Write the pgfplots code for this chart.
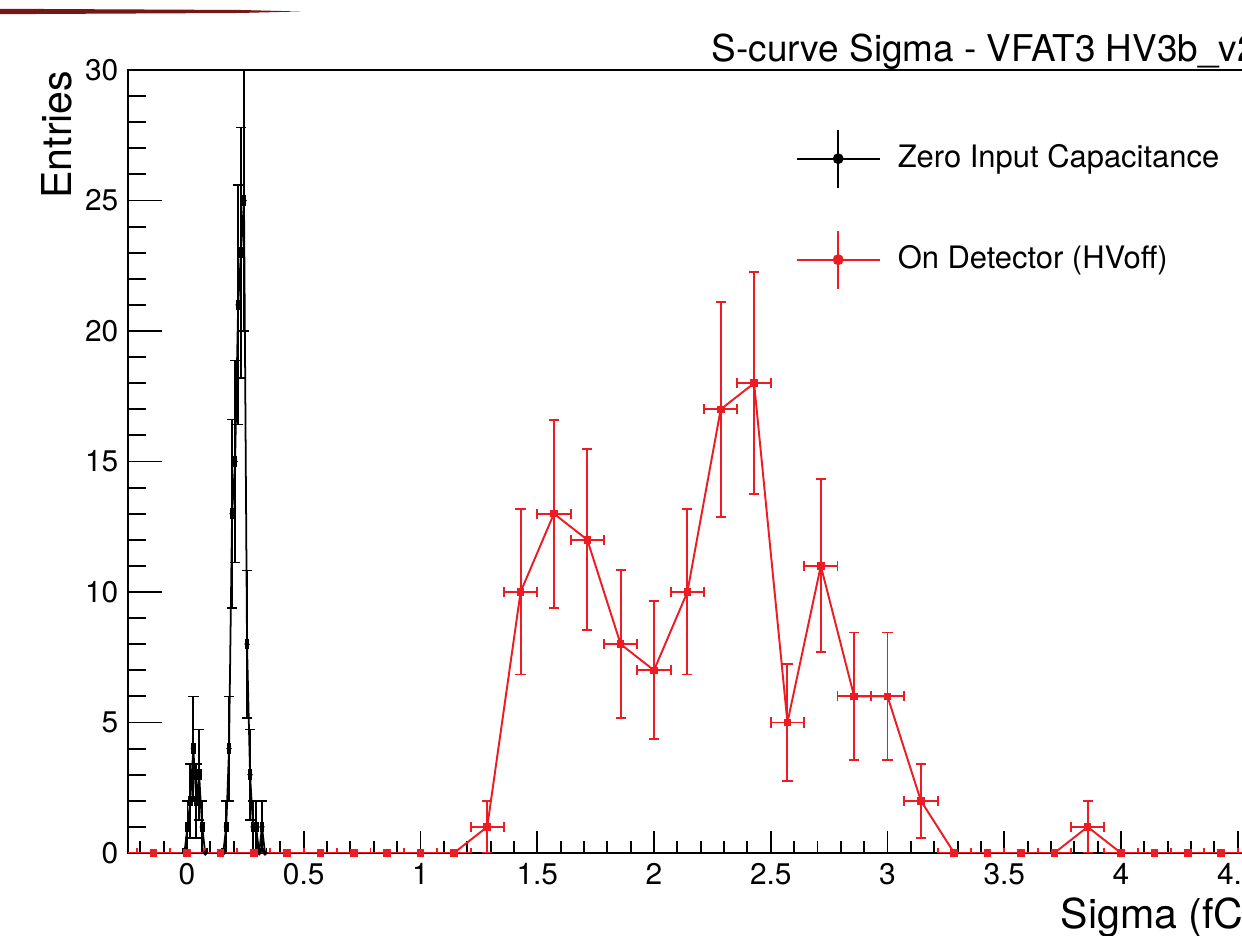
\documentclass[border=0pt]{standalone}
\usepackage{fontspec}
\setmainfont{TeX Gyre Heros}
\usepackage{pgfplots}
\usepackage{pgfplotstable}
\pgfplotsset{compat=1.18}
\definecolor{rootred}{RGB}{237,28,36}
\definecolor{slidered}{RGB}{120,22,22}

\pgfplotstableread{
x y ex ey
-0.2857 0 0.0714 0
-0.1429 0 0.0714 0
0.0 0 0.0714 0
0.1429 0 0.0714 0
0.2857 0 0.0714 0
0.4286 0 0.0714 0
0.5714 0 0.0714 0
0.7143 0 0.0714 0
0.8571 0 0.0714 0
1.0 0 0.0714 0
1.1429 0 0.0714 0
1.2857 1 0.0714 1
1.4286 10 0.0714 3.162
1.5714 13 0.0714 3.606
1.7143 12 0.0714 3.464
1.8571 8 0.0714 2.828
2.0 7 0.0714 2.646
2.1429 10 0.0714 3.162
2.2857 17 0.0714 4.123
2.4286 18 0.0714 4.243
2.5714 5 0.0714 2.236
2.7143 11 0.0714 3.317
2.8571 6 0.0714 2.449
3.0 6 0.0714 2.449
3.1429 2 0.0714 1.414
3.2857 0 0.0714 0
3.4286 0 0.0714 0
3.5714 0 0.0714 0
3.7143 0 0.0714 0
3.8571 1 0.0714 1
4.0 0 0.0714 0
4.1429 0 0.0714 0
4.2857 0 0.0714 0
4.4286 0 0.0714 0
4.5714 0 0.0714 0
}\redtab

\pgfplotstableread{
x y ex ey
-0.011 0 0.0064 0
0.002 1 0.0064 1
0.014 2 0.0064 1.414
0.027 4 0.0064 2
0.040 2 0.0064 1.414
0.052 3 0.0064 1.732
0.065 1 0.0064 1
0.078 0 0.0064 0
0.155 0 0.0064 0
0.168 1 0.0064 1
0.180 4 0.0064 2
0.193 13 0.0064 3.606
0.206 15 0.0064 3.873
0.219 21 0.0064 4.583
0.231 23 0.0064 4.796
0.244 25 0.0064 5
0.257 8 0.0064 2.828
0.270 3 0.0064 1.732
0.283 1 0.0064 1
0.296 1 0.0064 1
0.309 0 0.0064 0
0.321 1 0.0064 1
0.334 0 0.0064 0
}\blacktab

\pgfplotsset{
  common/.style={
    anchor=south west, at={(1.28cm,0.83cm)},
    x=2.335cm, y=0.261cm,
    xmin=-0.2527, xmax=4.6, ymin=0, ymax=30,
    axis line style={line width=0.6pt, black},
    tick align=inside, xtick pos=left, ytick pos=left,
    every tick/.style={line width=0.55pt, black},
    ticklabel style={font=\fontsize{8.5}{10}\selectfont},
    /pgf/number format/assume math mode=true,
  }
}

\begin{document}
\begin{tikzpicture}[x=1cm,y=1cm]
\path[use as bounding box, clip] (0,0) rectangle (12.42,9.36);
\fill[slidered] (0,9.272) -- (2.4,9.26) -- (3.0,9.245) -- (2.4,9.23) -- (0,9.218) -- cycle;

% y ticks axis
\begin{axis}[common,
  xtick=\empty, 
  ytick={0,5,...,30}, minor ytick={1,2,...,29},
  major tick length=3.4mm, minor tick length=1.8mm,
  yticklabel style={inner sep=0pt, xshift=-0.9mm},
]
\end{axis}

% x ticks axis with data
\begin{axis}[common,
  ytick=\empty,
  xtick={0,0.5,...,4.5}, minor xtick={-0.2,-0.1,...,4.6},
  major tick length=2.2mm, minor tick length=1.2mm,
  xticklabel style={inner sep=0pt, yshift=-1.0mm},
  legend style={draw=none, fill=none, at={(0.5886,0.9259)}, anchor=north west,
    inner sep=0pt, row sep=0.41cm, column sep=0.17cm,
    font=\fontsize{8.8}{10.5}\selectfont, nodes={inner sep=0pt}},
  legend cell align=left,
]
\addplot[black, line width=0.5pt, mark=*, mark size=0.45pt,
  legend image code/.code={
    \draw[black, line width=0.55pt] (0cm,0cm) -- (0.83cm,0cm);
    \draw[black, line width=0.55pt] (0.415cm,-0.29cm) -- (0.415cm,0.29cm);
    \fill[black] (0.415cm,0cm) circle (0.45mm);
  },
  error bars/.cd, x dir=both, x explicit, y dir=both, y explicit,
  error bar style={line width=0.5pt, black},
  error mark options={rotate=90, mark size=1.5pt, line width=0.5pt, black}]
  table[x=x, y=y, x error=ex, y error=ey] {\blacktab};
\addlegendentry{Zero Input Capacitance}

\addplot[rootred, line width=0.55pt, mark=square*, mark size=0.8pt,
  legend image code/.code={
    \draw[rootred, line width=0.6pt] (0cm,0cm) -- (0.83cm,0cm);
    \draw[rootred, line width=0.6pt] (0.415cm,-0.29cm) -- (0.415cm,0.29cm);
    \fill[rootred] (0.415cm,0cm) circle (0.45mm);
  },
  error bars/.cd, x dir=both, x explicit, y dir=both, y explicit,
  error bar style={line width=0.55pt, rootred},
  error mark options={rotate=90, mark size=1.45pt, line width=0.55pt, rootred}]
  table[x=x, y=y, x error=ex, y error=ey] {\redtab};
\addlegendentry{On Detector (HVoff)}
\end{axis}

\node[anchor=base west, font=\fontsize{10.5}{12}\selectfont, inner sep=0pt] at (7.11,8.74) {S-curve Sigma - VFAT3 HV3b\_v2};
\node[anchor=base west, font=\fontsize{11.7}{14}\selectfont, inner sep=0pt] at (10.60,0.07) {Sigma (fC)};
\node[rotate=90, anchor=base east, font=\fontsize{11.7}{14}\selectfont, inner sep=0pt] at (0.71,8.66) {Entries};
\end{tikzpicture}
\end{document}
